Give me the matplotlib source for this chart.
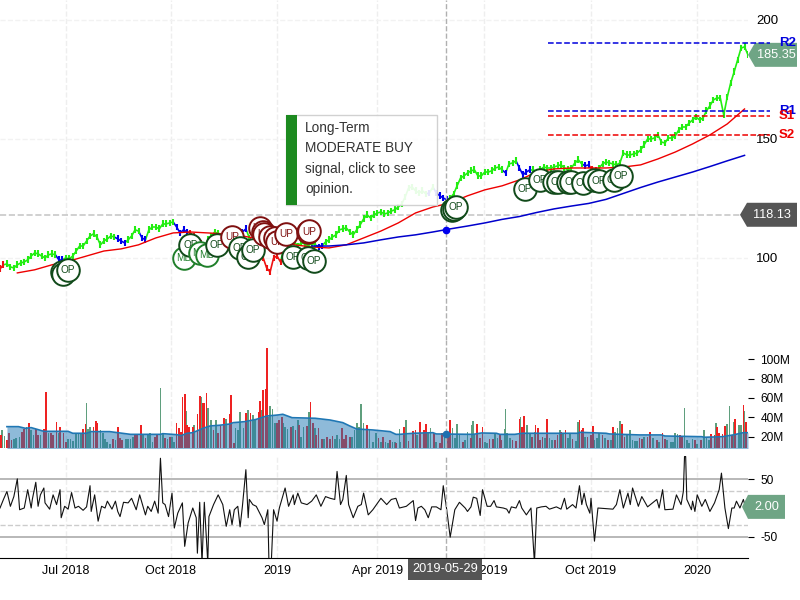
import numpy as np
import matplotlib
matplotlib.use('Agg')
import matplotlib.pyplot as plt
from matplotlib.collections import LineCollection
from matplotlib.patches import Polygon, Rectangle
from matplotlib.transforms import IdentityTransform

plt.rcParams['font.family'] = ['Liberation Sans', 'DejaVu Sans']
plt.rcParams['axes.unicode_minus'] = False

# x axis is days from the left edge of the chart
tick_days = [57, 148, 240, 327, 419, 512, 604]
tick_labels = ['Jul 2018', 'Oct 2018', '2019', 'Apr 2019', 'Jul 2019', 'Oct 2019', '2020']
last_day = 648
cross_day = 386
cross_label = '2019-05-29'
cross_price = 118.13
last_price = 185.35
last_osc = 2.00

price_days = np.arange(0, 649, 3)
price = [95.4, 97.1, 97.5, 96.2, 95.8, 97.1, 97.9, 98.3, 99.2, 100.8, 102.1, 101.7, 100.8, 100, 101.3, 101.7,
         101.3, 99.2, 99.2, 100, 99.6, 100.8, 102.9, 105, 105, 107.1, 109.2, 110.1, 108.8, 105.5, 107.1, 108,
         109.2, 108.8, 108, 107.1, 106.3, 107.6, 109.2, 111.8, 111.3, 108.4, 107.6, 111.8, 113, 113, 112.2, 114.3,
         114.3, 114.7, 115.1, 113, 110.5, 111.8, 110.9, 110.5, 109.2, 107.6, 106.3, 104.2, 107.6, 109.2, 110.9, 110.1,
         108.4, 106.7, 104.2, 103.4, 106.7, 109.2, 110.9, 112.2, 108.4, 106.7, 105, 103.4, 100, 95.8, 94.1, 100,
         100.8, 98.3, 104.2, 106.3, 105.5, 106.7, 105, 106.3, 105.9, 105, 106.3, 105.5, 104.6, 105, 106.7, 107.6,
         108.8, 109.7, 111.8, 112.2, 112.6, 110.9, 109.7, 111.8, 113.9, 116.4, 118.1, 116.8, 118.1, 118.9, 119.3, 118.5,
         118.9, 119.7, 120.2, 121.4, 122.7, 125.6, 129.4, 129.8, 128.2, 127.3, 128.2, 126.9, 127.3, 129.8, 127.3, 126.1,
         125.2, 124.4, 125.2, 126.9, 130.3, 133.6, 134.5, 135.7, 136.6, 137, 134.5, 134.5, 136.1, 136.1, 136.6, 137.8,
         138.2, 137, 135.7, 139.5, 139.9, 140.8, 137.8, 134.9, 136.1, 137, 137, 136.1, 137, 138.2, 137.8, 137.8,
         138.2, 138.7, 139.1, 137.8, 137, 137.8, 139.9, 141.2, 139.5, 138.7, 139.1, 137, 136.6, 137.8, 139.5, 140.3,
         139.9, 139.5, 139.1, 139.9, 144.1, 143.3, 143.3, 143.7, 144.1, 145.4, 147.5, 150, 150, 150.4, 151.7, 148.7,
         148.3, 150.4, 150.4, 151.3, 153.8, 155, 155, 156.7, 158, 159.2, 158, 158.8, 161.8, 163.9, 166.4, 167.2,
         167.2, 160.1, 167.6, 173.5, 178.2, 183.2, 188.2, 188.7, 185.35]
# which price points are drawn blue or red, the rest are green
blue_points = [17, 18, 34, 35, 36, 41, 42, 51, 52, 53, 54, 70, 71, 92, 93, 124, 126, 127, 128, 129,
               146, 150, 151, 152, 153, 169, 170]
red_points = [0, 1, 55, 56, 57, 58, 64, 65, 66, 67, 68, 73, 74, 75, 76, 77, 78, 79, 80, 81, 171, 172]

ma50_days = np.arange(15, 646, 15)
ma50 = [93.7, 95, 97.1, 98.7, 100.8, 102.9, 103.8, 105.5, 108.4, 110.5, 110.9, 110.5, 110.1, 109.2, 108, 106.7,
        105.5, 104.6, 104.2, 105.5, 108.4, 111.3, 114.7, 118.9, 121.4, 123.1, 126.1, 128.6, 130.3, 132.8, 136.1,
        137.4, 137.8, 137.8, 137.8, 138.2, 139.1, 141.6, 144.5, 147.9, 151.7, 156.3, 162.6]
ma200_days = np.arange(270, 646, 15)
ma200 = [105, 105, 105.5, 106.3, 107.6, 108.8, 109.7, 110.9, 112.2, 113.4, 114.7, 116.2, 117.4, 119.1, 120.6, 121.8,
         122.9, 124.6, 127.1, 129.6, 131.9, 134, 136.1, 138.4, 140.8, 143.1]
ma200_at_cross = 111.8

level_names = ['R2', 'R1', 'S1', 'S2']
level_values = [190.3, 161.8, 159.7, 151.7]
level_colors = ['#0000dd', '#0000dd', '#ee0000', '#ee0000']
level_start = 475
level_end = 667

signal_days = [54, 55, 59, 159, 165, 173, 179, 188, 201, 208, 215, 219, 225, 228, 229, 234, 238, 240, 248, 254,
               267, 272, 267, 268, 392, 393, 395, 455, 468, 480, 483, 492, 495, 505, 515, 519, 532, 538]
signal_prices = [94.1, 93.3, 95, 100, 105.5, 102.1, 101.3, 105.5, 108.8, 104.2, 100.4, 103.4, 112.6, 110.9, 110.1,
                 108.8, 108.4, 106.7, 110.1, 100.4, 100, 98.7, 110.9, 111.3, 120.2, 120.6, 121.4, 129, 132.8, 131.9,
                 131.9, 131.9, 131.9, 131.5, 132.8, 132.4, 132.8, 134.5]
signal_labels = ['OP', 'OP', 'OP', 'MB', 'OP', 'MB', 'MB', 'OP', 'UP', 'OP', 'OP', 'OP', 'UP', 'UP', 'UP', 'UP',
                 'UP', 'UP', 'UP', 'OP', 'OP', 'OP', 'UP', 'UP', 'OP', 'OP', 'OP', 'OP', 'OP', 'OP', 'OP', 'OP',
                 'OP', 'OP', 'OP', 'OP', 'OP', 'OP']
signal_colors = {'OP': '#114a1a', 'MB': '#1f7f2a', 'UP': '#7f1010'}

vol_up_days = [2, 4, 12, 14, 17, 23, 27, 29, 35, 42, 51, 59, 61, 63, 66, 68, 70, 75, 76, 78, 87, 89, 91, 93, 95, 100,
               109, 111, 113, 115, 124, 128, 130, 132, 139, 141, 145, 149, 151, 161, 168, 174, 180, 183, 187, 196,
               204, 206, 208, 211, 215, 219, 221, 226, 232, 234, 236, 238, 245, 247, 249, 254, 258, 261, 263, 268,
               273, 281, 290, 292, 294, 305, 307, 309, 311, 313, 315, 320, 323, 326, 330, 334, 336, 340, 342, 346,
               347, 352, 361, 371, 373, 378, 385, 392, 394, 396, 398, 403, 405, 409, 410, 411, 420, 422, 429, 431,
               437, 438, 439, 442, 451, 456, 457, 459, 463, 472, 476, 478, 485, 488, 492, 494, 499, 501, 507, 515,
               517, 519, 524, 529, 533, 535, 537, 543, 546, 548, 550, 552, 558, 566, 571, 578, 581, 583, 585, 587,
               593, 595, 597, 600, 604, 610, 612, 614, 620, 630, 632, 636, 640, 642, 645]
vol_up = [27.2, 21, 17.6, 18.6, 20.3, 29.9, 27.2, 22.1, 22.1, 23.8, 23.8, 17.6, 17.6, 16.2, 23.1, 23.1, 23.8, 54.5,
          27.9, 29.9, 27.2, 23.8, 17.6, 15.2, 12.8, 17, 17.6, 17.6, 17.6, 20.3, 22.1, 22.1, 24.4, 15.2, 69.9, 24.4,
          17.6, 20.3, 15.2, 46.7, 32, 61.4, 50.1, 37.4, 37.4, 38.1, 28.9, 27.2, 45.3, 28.9, 47.4, 42.2, 37.4, 47.7,
          40.9, 51.8, 48.4, 34, 34, 30.6, 27.9, 31.3, 37.4, 20.3, 29.9, 46, 28.9, 17.6, 17.6, 22.1, 18.3, 20.3, 27.2,
          34.7, 29.9, 53.5, 34.7, 27.2, 15.2, 24.4, 15.2, 15.2, 13.5, 15.2, 15.2, 27.9, 15.2, 37.4, 22.1, 23.8, 28.9,
          15.2, 20.3, 29.6, 18.6, 33, 22.1, 17, 25.5, 32.3, 36.4, 22.1, 15.2, 13.5, 23.8, 18.6, 27.9, 48.4, 23.8, 18.6,
          40.2, 32, 32.7, 23.8, 25.5, 18.6, 18.6, 17, 27.2, 23.8, 18.6, 23.8, 16.2, 35, 20.3, 17, 18.6, 23.8, 18.6, 17,
          25.5, 28.9, 36.1, 22.1, 27.2, 17, 16.2, 16.2, 20.3, 18.6, 15.2, 17, 15.2, 15.2, 23.8, 22.7, 49.4, 17, 13.5,
          17.6, 12.8, 27.2, 18.6, 17, 34, 33, 51.8, 35.7, 32.3, 32.3, 46.7]
vol_down_days = [1, 6, 8, 10, 19, 21, 25, 31, 33, 38, 40, 44, 46, 49, 52, 55, 57, 72, 74, 81, 83, 84, 98, 102, 104,
                 106, 117, 119, 122, 126, 134, 136, 143, 147, 153, 155, 157, 158, 160, 162, 164, 167, 171, 173, 176,
                 177, 179, 185, 189, 191, 194, 199, 200, 203, 213, 217, 224, 225, 228, 230, 231, 240, 242, 244, 252,
                 256, 259, 266, 269, 271, 274, 276, 279, 283, 286, 288, 296, 298, 300, 303, 318, 328, 332, 338, 343,
                 350, 354, 358, 360, 364, 367, 369, 376, 381, 383, 388, 390, 401, 408, 413, 416, 418, 424, 427, 433,
                 434, 444, 447, 450, 452, 454, 461, 464, 466, 468, 470, 474, 481, 483, 486, 490, 496, 502, 504, 505,
                 509, 512, 514, 522, 527, 531, 539, 541, 554, 556, 561, 563, 569, 574, 576, 589, 591, 602, 607, 616,
                 619, 621, 623, 626, 628, 634, 637, 644, 646]
vol_down = [22.1, 17, 24, 17, 25.5, 27.9, 34, 27.9, 22.1, 27.9, 65.8, 24.4, 22.1, 35, 29.9, 23.8, 15.2, 27.9, 33, 30.6,
            36.4, 34, 17.6, 29.9, 18.6, 17, 22.1, 22.1, 32, 18.6, 20.3, 22.1, 18.6, 20.3, 34, 28.9, 25.5, 60.7, 63.8,
            32, 30.6, 30.6, 43.3, 62.4, 55.2, 54.5, 64.8, 27.2, 24.4, 31.3, 39.2, 43.3, 62.8, 13.5, 44.3, 44.3, 46,
            56.6, 68.2, 69.6, 111, 34, 37.4, 40.9, 30.6, 27.2, 32, 31.3, 55.6, 34.7, 22.1, 28.9, 18, 20.3, 17.6, 21.4,
            28.9, 17.6, 22.1, 20.3, 32, 18.6, 19.7, 17, 13.5, 29.9, 15.9, 26.2, 27.2, 35, 27.2, 33, 23.8, 13.5, 23.8,
            25.5, 37.4, 15.2, 18.6, 33, 18.6, 29.9, 17.6, 17.9, 22.1, 17, 17, 16.2, 38.1, 29.9, 41.5, 20.3, 32.3, 28.9,
            17, 20.3, 38.1, 17, 22.1, 25.5, 27.2, 18, 37.4, 27.2, 28.9, 19.7, 22.1, 31.3, 22.1, 17, 29.9, 33.3, 20.3,
            18.6, 17.9, 20.3, 24.8, 17, 23.8, 17.6, 22.1, 20.3, 17, 17, 23.1, 22.1, 29.9, 23.8, 23.1, 31.6, 22.1, 38.5,
            52.5, 35]

vol_ma_days = [6, 16, 22, 27, 32, 38, 59, 63, 75, 79, 95, 113, 139, 141, 153, 157, 162, 167, 176, 182, 190, 199, 202,
               212, 222, 231, 241, 245, 253, 273, 286, 297, 303, 309, 323, 338, 343, 346, 358, 375, 378, 410, 417, 430,
               433, 446, 450, 453, 501, 502, 525, 528, 554, 573, 576, 608, 610, 626, 635, 644, 648]
vol_ma = [30.6, 30.6, 28.9, 29.6, 27.9, 25.8, 25.8, 23.8, 23.8, 25.5, 25.5, 22.7, 22.7, 23.4, 22.4, 21.4, 23.8, 24.4,
          28.9, 31.3, 32, 33.3, 34.7, 35.7, 38.1, 41.5, 42.6, 43.3, 39.8, 39.2, 37.4, 34.7, 31.3, 28.2, 27.2, 25.5,
          22.7, 22.7, 23.8, 24.4, 23.1, 22.7, 24.1, 23.8, 22.7, 22.7, 23.4, 23.8, 23.8, 24.8, 23.8, 23.1, 22.1, 22.1,
          21, 20.3, 19.7, 20.3, 22.1, 24.4, 24.4]
vol_ma_at_cross = 23.1
vol_ticks = [20, 40, 60, 80, 100]
vol_tick_labels = ['20M', '40M', '60M', '80M', '100M']

osc_days = [0, 3, 6, 9, 12, 15, 17, 21, 24, 27, 28, 31, 33, 35, 38, 39, 43, 46, 49, 52, 53, 56, 59, 62, 65, 68, 72, 75,
            78, 79, 82, 85, 88, 91, 93, 97, 100, 102, 104, 107, 111, 114, 118, 121, 126, 128, 131, 134, 137, 139, 141,
            143, 146, 149, 151, 154, 158, 160, 163, 167, 170, 171, 173, 175, 177, 180, 181, 185, 189, 193, 196, 199,
            201, 203, 206, 208, 210, 213, 215, 216, 219, 222, 227, 229, 232, 233, 235, 237, 240, 242, 247, 250, 254,
            255, 258, 261, 266, 270, 274, 278, 282, 286, 290, 292, 295, 297, 300, 302, 306, 310, 313, 315, 319, 323,
            330, 335, 339, 343, 346, 352, 358, 360, 362, 365, 368, 371, 374, 378, 382, 384, 387, 390, 394, 398, 403,
            405, 408, 410, 413, 416, 418, 422, 425, 428, 430, 436, 439, 441, 443, 447, 450, 452, 456, 460, 463, 465,
            469, 473, 476, 482, 486, 489, 491, 496, 499, 502, 504, 506, 508, 511, 512, 515, 518, 524, 531, 534, 537,
            540, 544, 546, 548, 553, 556, 561, 569, 571, 574, 576, 583, 586, 590, 592, 593, 594, 595, 599, 600, 602,
            604, 608, 611, 615, 619, 623, 625, 628, 631, 634, 636, 638, 641, 644, 646, 648]
osc = [0, 15, 29, 3, 20, 51, -3, 0, 32, 0, 15, 45, 3, 23, 35, 9, -2, 23, 6, 32, -17, 3, -2, 27, 0, 3, -4, 2,
       39, -6, 23, -23, 3, 0, 12, -2, 12, -6, -15, 10, 9, 17, -3, 23, -12, 3, -6, 12, -9, 87, 9,
       6, -15, 26, -35, -9, 9, -67, -26, 0, -17, -79, 10, -96, 10, -96, -15, 6, 23, 6, -32, -3,
       -29, -3, 3, -33, 3, 67, -17, 15, 6, 3, -17, -29, -3, -96, -96, -3, -23, 0, 35, 3, 23,
       6, 26, 9, 6, 12, 23, 3, 20, 17, 15, 64, 6, 15, 57, 6, -17, 3, 6, 26, -12, -3,
       17, 6, 15, 17, 0, 3, 13, -22, 0, 3, -3, -17, 2, 2, -3, 39, -3, -51, -3, 10, 0,
       -6, 2, 19, 17, -13, 32, 3, 3, 13, 2, 0, -2, -9, 2, 0, 13, 0, -12, 0, -96, 0,
       2, 3, -2, 2, -2, 17, -2, 6, 0, 39, 6, 26, 6, -9, 17, -58, 0, -1, -2, 6, 32,
       0, 26, 6, 35, 3, 20, 2, 15, 0, 32, -3, -2, 23, 6, 29, 90, 90, 15, -3, 12, -6,
       23, 3, 15, -6, 9, 32, 61, 0, -36, 0, 0, 12, 0, 15, 0, 2]
osc_solid = [50, -50]
osc_dashed = [30, -30]

signal_text = 'Long-Term\nMODERATE BUY\nsignal, click to see\nopinion.'

fig = plt.figure(figsize=(8, 6), dpi=100)
W, H = 800.0, 600.0


def add_panel(top, bottom):
    ax = fig.add_axes([0, 1 - bottom / H, 748 / W, (bottom - top) / H])
    ax.patch.set_visible(False)
    ax.set_xlim(0, last_day)
    ax.set_xticks(tick_days)
    ax.grid(True, axis='x', color='#eeeeee', linestyle='--', linewidth=1)
    ax.set_axisbelow(True)
    ax.yaxis.tick_right()
    for s in ax.spines.values():
        s.set_visible(False)
    ax.tick_params(axis='x', length=0, labelbottom=False)
    ax.axvline(cross_day, color='#b0b0b0', linestyle='--', linewidth=1, zorder=6)
    return ax


# price panel
ax = add_panel(0, 340)
ax.set_ylim(65.5, 208.4)
ax.set_yticks([100, 150, 200])
ax.tick_params(axis='y', length=0, pad=6, labelsize=9.5)
ax.grid(True, axis='y', color='#f2f2f2', linestyle='--', linewidth=1)

point_colors = []
for i in range(len(price)):
    if i in blue_points:
        point_colors.append('#0000ee')
    elif i in red_points:
        point_colors.append('#ee1111')
    else:
        point_colors.append('#22ee11')
pts = np.column_stack([price_days, price])
segs = np.stack([pts[:-1], pts[1:]], axis=1)
ax.add_collection(LineCollection(segs, colors=point_colors[1:], linewidths=1.2, capstyle='butt', zorder=3))
# short vertical strokes give the bars their rough look
ax.scatter(price_days, price, marker='|', s=24, c=point_colors, linewidths=1.5, zorder=3)
ax.plot(ma50_days, ma50, color='#ee0000', linewidth=1, zorder=4)
ax.plot(ma200_days, ma200, color='#0000cc', linewidth=1.1, zorder=4)
ax.plot([cross_day], [ma200_at_cross], 'o', color='#0000ee', markersize=4.5, zorder=7)
ax.plot([0, 641], [cross_price, cross_price], color='#c8c8c8', linestyle='--', linewidth=1.2, zorder=2)

for name, val, col in zip(level_names, level_values, level_colors):
    ax.plot([level_start, level_end], [val, val], color=col, linestyle='--', linewidth=1.1, clip_on=False, zorder=5)
    ax.text(675, val, name, color=col, fontsize=9.5, fontweight='bold', va='center', clip_on=False, zorder=5)

for n, (d, p, lab) in enumerate(zip(signal_days, signal_prices, signal_labels)):
    col = signal_colors[lab]
    ax.scatter([d], [p], s=265, facecolor='white', edgecolor=col, linewidth=1.4, zorder=8 + n * 0.01)
    ax.text(d, p - 0.2, lab, color=col, fontsize=7.2, ha='center', va='center', zorder=8 + n * 0.01 + 0.005)

# volume panel
vax = add_panel(340, 448)
vax.set_ylim(8.7, 119.5)
vax.bar(vol_up_days, vol_up, width=1.5, bottom=0, color='#5f9f7d', zorder=2)
vax.bar(vol_down_days, vol_down, width=1.5, bottom=0, color='#ee2222', zorder=2)
vax.fill_between(vol_ma_days, 0, vol_ma, color='#1f77b4', alpha=0.5, linewidth=0, zorder=3)
vax.plot(vol_ma_days, vol_ma, color='#1f77b4', linewidth=1.2, zorder=4)
vax.plot([cross_day], [vol_ma_at_cross], 'o', color='#1f6fb0', markersize=4.5, zorder=7)
vax.set_yticks(vol_ticks)
vax.set_yticklabels(vol_tick_labels)
vax.tick_params(axis='y', length=4, pad=5, labelsize=8.6)

# oscillator panel
oax = add_panel(455, 558)
oax.set_ylim(-87.4, 92.7)
for v in osc_solid:
    oax.axhline(v, color='#b8b8b8', linewidth=1.4, zorder=1)
for v in osc_dashed:
    oax.axhline(v, color='#cccccc', linestyle='--', linewidth=1, zorder=1)
oax.plot(osc_days, osc, color='#111111', linewidth=0.8, zorder=3)
oax.set_yticks(osc_solid)
oax.tick_params(axis='y', length=4, pad=5, labelsize=8.6)
oax.spines['bottom'].set_visible(True)
oax.spines['bottom'].set_color('black')
oax.tick_params(axis='x', labelbottom=True, labelsize=9, pad=5)
oax.set_xticklabels(tick_labels)


def price_tag(panel, value, text, color, left, right, half=12, tip=None, order=-1):
    # flag pointing left at the value, drawn in screen pixels
    fig.canvas.draw()
    y = panel.transData.transform((0, value))[1]
    tip = left - 7 if tip is None else tip
    verts = [(tip, y), (left, y + half), (right, y + half), (right, y - half), (left, y - half)]
    fig.add_artist(Polygon(verts, closed=True, facecolor=color, edgecolor='none',
                           transform=IdentityTransform(), zorder=order))
    fig.text((left + right) / 2 / W, y / H, text, color='white', fontsize=9.2, ha='center', va='center', zorder=order)


price_tag(ax, last_price, '%.2f' % last_price, '#6fa585', 755, 797)
price_tag(ax, cross_price, '%.2f' % cross_price, '#555555', 747, 797, tip=740, order=20)
price_tag(oax, last_osc, '%.2f' % last_osc, '#6fa585', 748, 785, tip=742, order=20)

# date label on the crosshair
fig.add_artist(Rectangle((408 / W, 1 - 580 / H), 74 / W, 21 / H, facecolor='#555555', edgecolor='none',
                         transform=fig.transFigure, zorder=20))
fig.text(445 / W, 1 - 569.5 / H, cross_label, color='white', fontsize=9.2, ha='center', va='center', zorder=21)

# tooltip box
fig.add_artist(Rectangle((286 / W, 1 - 205 / H), 151 / W, 90 / H, facecolor='white', edgecolor='#cccccc',
                         alpha=0.9, linewidth=1, transform=fig.transFigure, zorder=20))
fig.add_artist(Rectangle((286 / W, 1 - 205 / H), 11 / W, 90 / H, facecolor='#1c8a1f', edgecolor='none',
                         transform=fig.transFigure, zorder=21))
fig.text(305 / W, 1 - 121 / H, signal_text, color='#333333', fontsize=9.8, va='top', linespacing=1.58, zorder=21)

fig.savefig('out.png', dpi=100)
